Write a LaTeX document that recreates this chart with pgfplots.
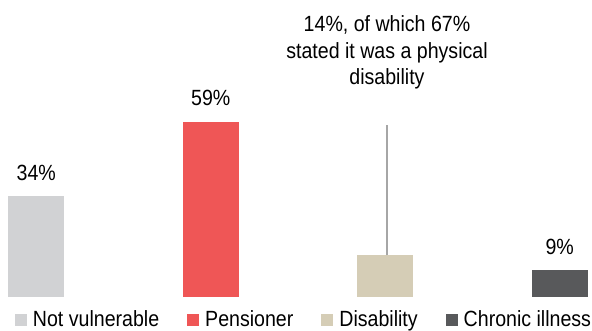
\documentclass[border=0pt]{standalone}
\usepackage{fontspec}
\setmainfont{Liberation Sans}[FakeStretch=0.89]
\usepackage{pgfplots}
\pgfplotsset{compat=1.18}
\definecolor{cNV}{HTML}{D1D2D4}
\definecolor{cPe}{HTML}{EF5656}
\definecolor{cDi}{HTML}{D5CDB6}
\definecolor{cCI}{HTML}{58595B}
\definecolor{cLine}{HTML}{A6A6A6}
\pgfplotsset{sq/.style={legend image code/.code={\fill[##1] (0bp,-6bp) rectangle (12bp,6bp);}}}
\begin{document}
\fontsize{22bp}{26.5bp}\selectfont
\begin{tikzpicture}
\useasboundingbox (0,0) rectangle (592bp,331bp);
\begin{axis}[
  at={(0,0)}, anchor=south west, scale only axis,
  width=592bp, height=331bp,
  xmin=-0.208, xmax=3.185, ymin=-11.45, ymax=100,
  hide axis, clip=false,
  /pgf/number format/assume math mode=true,
  ybar, bar width=56bp, bar shift=0pt,
  every node near coord/.append style={font=\fontsize{22bp}{26.5bp}\selectfont, anchor=base, yshift=16bp, inner sep=0pt, text=black},
  legend columns=4,
  legend style={draw=none, fill=none, at={(0.0253,0.003)}, anchor=south west,
    inner sep=0pt, outer sep=0pt, font=\fontsize{22bp}{26.5bp}\selectfont,
    nodes={inner sep=0pt},
    /tikz/every odd column/.append style={column sep=6bp},
    /tikz/every even column/.append style={column sep=28bp}},
]
\addplot[fill=cNV, draw=none, sq, nodes near coords={\pgfmathprintnumber{\pgfplotspointmeta}\%}] coordinates {(0,34)};
\addlegendentry{Not vulnerable}
\addplot[fill=cPe, draw=none, sq, nodes near coords={\pgfmathprintnumber{\pgfplotspointmeta}\%}] coordinates {(1,59)};
\addlegendentry{Pensioner}
\addplot[fill=cDi, draw=none, sq] coordinates {(2,14)};
\addlegendentry{Disability}
\addplot[fill=cCI, draw=none, sq, nodes near coords={\pgfmathprintnumber{\pgfplotspointmeta}\%}] coordinates {(3,9)};
\addlegendentry{Chronic illness}
\draw[cLine, line width=1.5bp] (axis cs:2.01,14) -- (axis cs:2.01,58);
\node[align=center, anchor=base, inner sep=0pt, font=\fontsize{22bp}{26.5bp}\selectfont] at (axis cs:2.01,71.4) {14\%, of which 67\%\\stated it was a physical\\disability};
\end{axis}
\end{tikzpicture}
\end{document}
